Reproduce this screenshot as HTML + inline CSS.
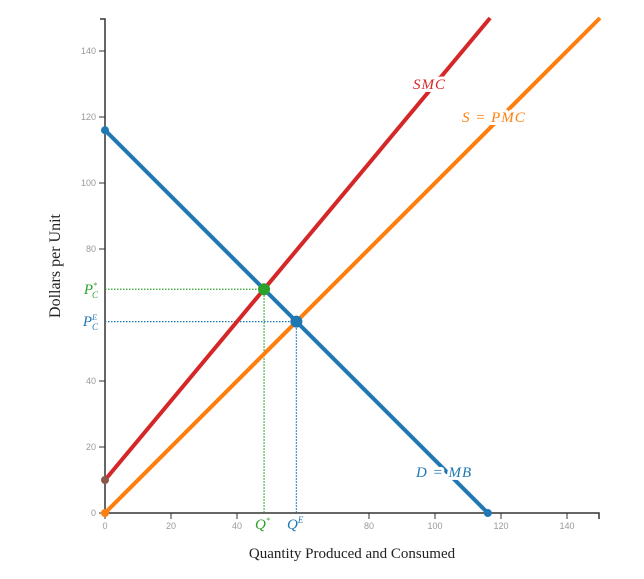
<!DOCTYPE html>
<html><head><meta charset="utf-8"><style>
html,body{margin:0;padding:0;background:#fff;width:644px;height:579px;overflow:hidden}
svg{display:block}
.tk{font:9px "Liberation Sans",sans-serif;fill:#999}
.lbl{font:italic 15px "Liberation Serif",serif}
.halo{letter-spacing:1px;paint-order:stroke;stroke:#fff;stroke-width:6px;stroke-linejoin:round}
</style></head><body>
<svg id="chart" width="644" height="579">
<g id="axes"></g><g id="guides"></g><g id="lines"></g><g id="pts"></g><g id="labels"></g>
</svg>
<script>
const xTicks=[0,20,40,80,100,120,140];
const yTicks=[0,20,40,80,100,120,140];
const demand=[[0,116],[116,0]];
const smc=[[0,10],[116.7,150]];
const pmc=[[0,0],[150,150]];
const eqSocial=[48.2,67.8];
const eqMarket=[58,58];
const X=v=>105+v*3.3, Y=v=>513-v*3.3;
const NS='http://www.w3.org/2000/svg';
function mk(g,t,a){const e=document.createElementNS(NS,t);for(const k in a)e.setAttribute(k,a[k]);document.getElementById(g).appendChild(e);return e;}
let e;
e=mk('axes','path',{d:`M100 19H105V513H599V519`,fill:'none',stroke:'#333','stroke-width':1.5});


xTicks.forEach(v=>{mk('axes','line',{x1:X(v),x2:X(v),y1:513,y2:519,stroke:'#333'});
 e=mk('axes','text',{x:X(v),y:529,'text-anchor':'middle',class:'tk'});e.textContent=v;
 
 });
yTicks.forEach(v=>{mk('axes','line',{x1:99,x2:105,y1:Y(v),y2:Y(v),stroke:'#333'});
 e=mk('axes','text',{x:96,y:Y(v)+3,'text-anchor':'end',class:'tk'});e.textContent=v;
 
 });
e=mk('axes','text',{x:352,y:558,'text-anchor':'middle',style:'font:15px "Liberation Serif",serif;fill:#222'});e.textContent='Quantity Produced and Consumed';


e=mk('axes','text',{x:0,y:0,transform:'translate(60,266) rotate(-90)','text-anchor':'middle',style:'font:16px "Liberation Serif",serif;fill:#222'});e.textContent='Dollars per Unit';


[[eqSocial,'#2ca02c'],[eqMarket,'#1f77b4']].forEach(([p,c])=>{
 e=mk('guides','path',{d:`M105 ${Y(p[1])}H${X(p[0])}V513`,fill:'none',stroke:c,'stroke-width':1.3,'stroke-dasharray':'1.5 1.5'});
 
 });
function line(d,c,name){e=mk('lines','line',{x1:X(d[0][0]),y1:Y(d[0][1]),x2:X(d[1][0]),y2:Y(d[1][1]),stroke:c,'stroke-width':4});
 
 }
line(pmc,'#ff7f0e','pmc-line');line(smc,'#d62728','smc-line');line(demand,'#1f77b4','demand-line');
function pt(x,y,r,c,name){e=mk('pts','circle',{cx:X(x),cy:Y(y),r:r,fill:c});
 
 }
pt(0,116,4,'#1f77b4','demand-intercept');pt(116,0,4,'#1f77b4','demand-x-intercept');
pt(0,10,4,'#8c564b','smc-intercept');pt(0,0,4,'#ff7f0e','pmc-intercept');
pt(eqSocial[0],eqSocial[1],6,'#2ca02c','social-equilibrium');pt(eqMarket[0],eqMarket[1],6,'#1f77b4','market-equilibrium');
function lab(x,y,t,c,name,anchor,cls){e=mk('labels','text',{x:x,y:y,class:'lbl '+(cls||''),fill:c,'text-anchor':anchor||'start'});e.innerHTML=t;
 
 }
lab(413,89,'SMC','#d62728','smc-label','start','halo');
lab(462,122,'S = PMC','#ff7f0e','pmc-label','start','halo');
lab(416,477,'D = MB','#1f77b4','demand-label','start','halo');
lab(98,294,'P<tspan font-size="8" dy="-6">*</tspan><tspan font-size="9" dx="-5" dy="10">C</tspan>','#2ca02c','p-star-label','end');
lab(98,326,'P<tspan font-size="8" dy="-6">E</tspan><tspan font-size="9" dx="-5" dy="10">C</tspan>','#1f77b4','p-e-label','end');
lab(255,529,'Q<tspan font-size="8" dy="-6">*</tspan>','#2ca02c','q-star-label');
lab(287,529,'Q<tspan font-size="9" dy="-6">E</tspan>','#1f77b4','q-e-label');
</script>
</body></html>
